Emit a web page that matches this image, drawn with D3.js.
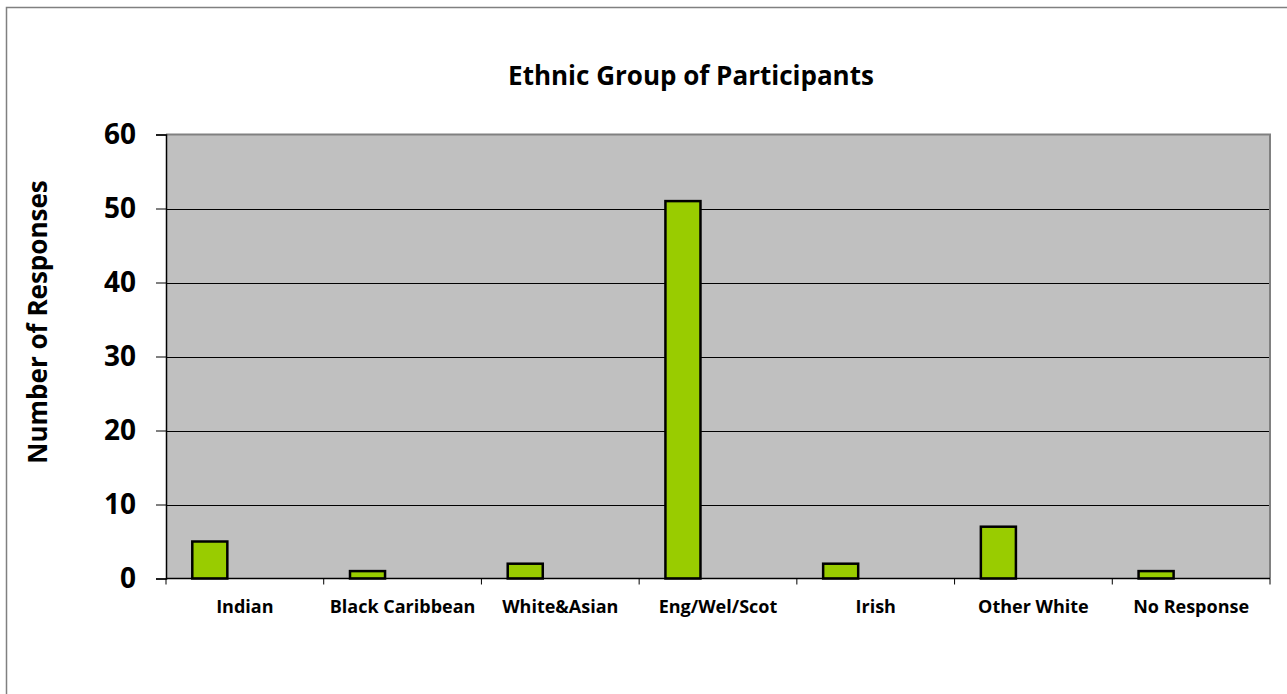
<!DOCTYPE html>
<html>
<head>
<meta charset="utf-8">
<script src="https://cdn.jsdelivr.net/npm/d3@7"></script>
<style>
  html, body { margin: 0; padding: 0; background: #fff; }
  svg { display: block; }
  text { font-family: "Open Sans", Lato, sans-serif; font-weight: bold; fill: #000; }
</style>
</head>
<body>
<svg id="chart" width="1287" height="694"></svg>
<script>
// Survey categories and response counts
const categories = ["Indian", "Black Caribbean", "White&Asian", "Eng/Wel/Scot", "Irish", "Other White", "No Response"];
const responses = [5, 1, 2, 51, 2, 7, 1];
const yTicks = [0, 10, 20, 30, 40, 50, 60];
const chartTitle = "Ethnic Group of Participants";
const yTitle = "Number of Responses";

const svg = d3.select("#chart");
const W = 1287, H = 694;
const plot = { left: 166, top: 134.5, right: 1270, bottom: 578.5 };

// outer frame
svg.append("rect")
  .attr("x", 6.5).attr("y", 7.5)
  .attr("width", W + 10).attr("height", H + 10)
  .attr("fill", "#fff").attr("stroke", "#808080").attr("stroke-width", 1.5);

const x = d3.scaleBand()
  .domain(categories)
  .range([plot.left, plot.right])
  .paddingInner(0).paddingOuter(0);

const y = d3.scaleLinear()
  .domain([0, 60])
  .range([plot.bottom, plot.top]);

// plot area
svg.append("rect")
  .attr("x", plot.left).attr("y", plot.top)
  .attr("width", plot.right - plot.left).attr("height", plot.bottom - plot.top)
  .attr("fill", "#C0C0C0");

// gridlines
svg.append("g")
  .selectAll("line")
  .data(yTicks.filter(d => d > 0 && d < 60))
  .join("line")
  .attr("x1", plot.left).attr("x2", plot.right)
  .attr("y1", d => Math.round(y(d)) + 0.5).attr("y2", d => Math.round(y(d)) + 0.5)
  .attr("stroke", "#000").attr("stroke-width", 1);

// plot border top and right
svg.append("path")
  .attr("d", `M${plot.left},${plot.top}H${plot.right}V${plot.bottom}`)
  .attr("fill", "none").attr("stroke", "#808080").attr("stroke-width", 2);

// bars: each occupies the first third of a 4.5-unit slot
const slot = x.bandwidth() / 4.5;
svg.append("g")
  .selectAll("rect")
  .data(categories.map((c, i) => ({ c, v: responses[i] })))
  .join("rect")
  .attr("x", d => x(d.c) + slot * 0.75)
  .attr("y", d => y(d.v))
  .attr("width", slot)
  .attr("height", d => y(0) - y(d.v))
  .attr("fill", "#99CC00")
  .attr("stroke", "#000")
  .attr("stroke-width", 2.5);

// y axis
const yAxis = svg.append("g")
  .attr("transform", `translate(${plot.left},0)`)
  .call(d3.axisLeft(y).tickValues(yTicks).tickSize(10).tickPadding(20));
yAxis.select(".domain").attr("stroke", "#000").attr("stroke-width", 1.5);
yAxis.selectAll(".tick line").attr("stroke", "#000");
yAxis.selectAll(".tick text")
  .style("font-family", "'Open Sans', sans-serif").style("font-weight", "bold")
  .style("font-size", "28px").attr("fill", "#000");

// x axis with ticks at category boundaries
const xAxisG = svg.append("g")
  .attr("transform", `translate(0,${plot.bottom})`);
xAxisG.append("line")
  .attr("x1", plot.left).attr("x2", plot.right)
  .attr("y1", 0).attr("y2", 0)
  .attr("stroke", "#000").attr("stroke-width", 1.5);
const bounds = categories.map(c => x(c)).concat([plot.right]);
xAxisG.selectAll("line.tick")
  .data(bounds)
  .join("line")
  .attr("class", "tick")
  .attr("x1", d => d).attr("x2", d => d)
  .attr("y1", 0).attr("y2", 6)
  .attr("stroke", "#000");
xAxisG.selectAll("text")
  .data(categories)
  .join("text")
  .attr("x", d => x(d) + x.bandwidth() / 2)
  .attr("y", 34.5)
  .attr("text-anchor", "middle")
  .style("font-size", "18px")
  .text(d => d);

// titles
svg.append("text")
  .attr("x", 691).attr("y", 85)
  .attr("text-anchor", "middle")
  .style("font-size", "26px")
  .text(chartTitle);

svg.append("text")
  .attr("transform", `translate(47,322) rotate(-90)`)
  .attr("text-anchor", "middle")
  .style("font-size", "26px")
  .text(yTitle);
</script>
</body>
</html>
